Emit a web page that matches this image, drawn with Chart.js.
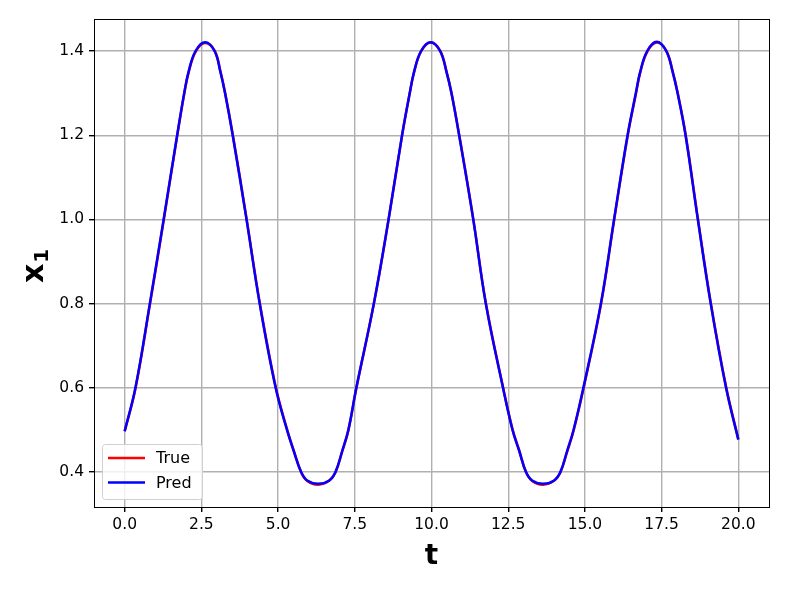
<!DOCTYPE html>
<html>
<head>
<meta charset="utf-8">
<script src="https://cdn.jsdelivr.net/npm/chart.js@4/dist/chart.umd.min.js"></script>
<style>
  html, body { margin: 0; padding: 0; background: #fff; }
  #wrap { width: 789px; height: 592px; }
</style>
</head>
<body>
<div id="wrap"><canvas id="chart" width="789" height="592"></canvas></div>
<script>
// time samples (level crossings, peaks and troughs)
const tValues = [0.0, 0.35, 0.82, 1.27, 1.71, 1.94, 2.08, 2.31, 2.62,
    2.93, 3.12, 3.27, 3.52, 3.97, 4.40, 4.92, 5.29, 5.51, 5.75, 5.95, 6.31,
    6.67, 6.87, 7.09, 7.29, 7.55, 8.12, 8.60, 9.04, 9.29, 9.43, 9.66, 9.97,
    10.28, 10.49, 10.65, 10.90, 11.36, 11.77, 12.33, 12.64, 12.86, 13.08, 13.28, 13.64,
    14.00, 14.20, 14.42, 14.63, 14.95, 15.52, 15.95, 16.39, 16.66, 16.80, 17.03, 17.34,
    17.65, 17.86, 18.02, 18.28, 18.68, 19.10, 19.60, 20.0];
const trueValues = [0.497, 0.598, 0.797, 0.997, 1.198, 1.298, 1.348, 1.398, 1.419,
    1.401, 1.352, 1.302, 1.203, 1.003, 0.803, 0.603, 0.502, 0.451, 0.400, 0.379, 0.370,
    0.380, 0.399, 0.449, 0.499, 0.599, 0.799, 0.999, 1.199, 1.299, 1.349, 1.399, 1.420,
    1.401, 1.351, 1.301, 1.202, 1.002, 0.802, 0.602, 0.502, 0.451, 0.400, 0.379, 0.370,
    0.380, 0.399, 0.448, 0.498, 0.597, 0.797, 0.997, 1.197, 1.297, 1.348, 1.398, 1.420,
    1.401, 1.352, 1.302, 1.203, 1.003, 0.803, 0.603, 0.478];
const predValues = [0.497, 0.6, 0.8, 1.0, 1.2, 1.3, 1.35, 1.4, 1.421,
    1.4, 1.35, 1.3, 1.2, 1.0, 0.8, 0.6, 0.5, 0.45, 0.4, 0.38, 0.372,
    0.38, 0.4, 0.45, 0.5, 0.6, 0.8, 1.0, 1.2, 1.3, 1.35, 1.4, 1.421,
    1.4, 1.35, 1.3, 1.2, 1.0, 0.8, 0.6, 0.5, 0.45, 0.4, 0.38, 0.372,
    0.38, 0.4, 0.45, 0.5, 0.6, 0.8, 1.0, 1.2, 1.3, 1.35, 1.4, 1.422,
    1.4, 1.35, 1.3, 1.2, 1.0, 0.8, 0.6, 0.477];
const xTicks = [0, 2.5, 5, 7.5, 10, 12.5, 15, 17.5, 20];
const yTicks = [0.4, 0.6, 0.8, 1.0, 1.2, 1.4];

const FONT = "'DejaVu Sans', sans-serif";

function toPoints(values) {
    return tValues.map((t, i) => ({ x: t, y: values[i] }));
}

// frame on all four sides, like matplotlib spines
const framePlugin = {
    id: 'frame',
    afterDraw(chart) {
        const { ctx, chartArea: a } = chart;
        ctx.save();
        ctx.strokeStyle = '#000';
        ctx.lineWidth = 1;
        ctx.strokeRect(Math.round(a.left) + 0.5, Math.round(a.top) + 0.5,
            Math.round(a.right - a.left), Math.round(a.bottom - a.top));
        ctx.restore();
    }
};

// y label "x" with subscript 1, rotated
const yLabelPlugin = {
    id: 'yLabel',
    afterDraw(chart) {
        const ctx = chart.ctx;
        ctx.save();
        ctx.translate(43, 283);
        ctx.rotate(-Math.PI / 2);
        ctx.fillStyle = '#000';
        ctx.textBaseline = 'alphabetic';
        ctx.textAlign = 'left';
        ctx.font = 'bold 30px ' + FONT;
        ctx.fillText('x', 0, 0);
        const w = ctx.measureText('x').width;
        ctx.font = 'bold 20px ' + FONT;
        ctx.fillText('1', w + 1, 5);
        ctx.restore();
    }
};

// legend box in the lower left corner of the plot
const legendPlugin = {
    id: 'innerLegend',
    afterDraw(chart) {
        const { ctx, chartArea: a } = chart;
        const x = a.left + 8, y = a.bottom - 63, w = 100, h = 55;
        const items = [chart.data.datasets[0], chart.data.datasets[1]];
        ctx.save();
        ctx.fillStyle = 'rgba(255,255,255,0.8)';
        ctx.strokeStyle = '#d0d0d0';
        ctx.lineWidth = 1;
        ctx.beginPath();
        ctx.roundRect(x + 0.5, y + 0.5, w, h, 3);
        ctx.fill();
        ctx.stroke();
        ctx.font = '16px ' + FONT;
        ctx.textBaseline = 'middle';
        items.forEach((ds, i) => {
            const ly = y + 14 + i * 24.5;
            ctx.strokeStyle = ds.borderColor;
            ctx.lineWidth = 2.5;
            ctx.beginPath();
            ctx.moveTo(x + 6, ly);
            ctx.lineTo(x + 43, ly);
            ctx.stroke();
            ctx.fillStyle = '#000';
            ctx.fillText(ds.label, x + 54, ly + 1);
        });
        ctx.restore();
    }
};

new Chart(document.getElementById('chart'), {
    type: 'line',
    data: {
        datasets: [
            { label: 'True', data: toPoints(trueValues), borderColor: '#ff0000', borderWidth: 2.5,
              pointRadius: 0, fill: false, tension: 0.4, order: 2 },
            { label: 'Pred', data: toPoints(predValues), borderColor: '#0000ff', borderWidth: 2.5,
              pointRadius: 0, fill: false, tension: 0.4, order: 1 }
        ]
    },
    options: {
        responsive: false,
        animation: false,
        layout: { padding: { top: 19, right: 20, left: 0, bottom: 0 } },
        plugins: { legend: { display: false }, tooltip: { enabled: false } },
        scales: {
            x: {
                type: 'linear',
                min: -1, max: 21,
                afterBuildTicks: s => { s.ticks = xTicks.map(v => ({ value: v })); },
                afterFit: s => { s.height = 85; },
                ticks: { color: '#000', font: { family: FONT, size: 15.5 }, padding: 4,
                         maxRotation: 0, callback: v => v.toFixed(1) },
                grid: { color: '#b0b0b0', lineWidth: 1.4, tickColor: '#000', tickLength: 5 },
                border: { color: '#000' },
                title: { display: true, text: 't', color: '#000',
                         font: { family: FONT, size: 28, weight: 'bold' }, padding: { top: 0, bottom: 18 } }
            },
            y: {
                min: 0.317, max: 1.476,
                afterBuildTicks: s => { s.ticks = yTicks.map(v => ({ value: v })); },
                afterFit: s => { s.width = 94; },
                ticks: { color: '#000', font: { family: FONT, size: 15.5 }, padding: 5,
                         callback: v => v.toFixed(1) },
                grid: { color: '#b0b0b0', lineWidth: 1.4, tickColor: '#000', tickLength: 5 },
                border: { color: '#000' }
            }
        }
    },
    plugins: [framePlugin, yLabelPlugin, legendPlugin]
});
</script>
</body>
</html>
